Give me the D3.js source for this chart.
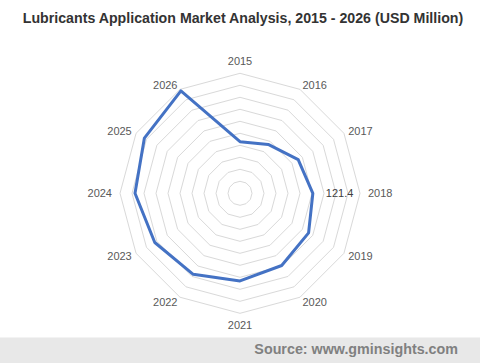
<!DOCTYPE html>
<html>
<head>
<meta charset="utf-8">
<script src="https://cdn.jsdelivr.net/npm/d3@7"></script>
<style>
    body { margin: 0; background: #fff; }
    text { font-family: "Liberation Sans", Arial, sans-serif; }
</style>
</head>
<body>
<div id="chart"></div>
<script>
// chart data
var years = ["2015", "2016", "2017", "2018", "2019", "2020", "2021", "2022", "2023", "2024", "2025", "2026"];
var values = [86, 94, 112, 121.4, 132, 139, 146, 156, 164, 175, 184, 197];
var ringTicks = [20, 40, 60, 80, 100, 120, 140, 160, 180, 200];
var labelledYear = "2018";

(function () {
    var width = 480, height = 363;
    var cx = 240, cy = 193.3, radius = 120;

    var svg = d3.select("#chart").append("svg")
        .attr("width", width)
        .attr("height", height);

    // title
    svg.append("text")
        .attr("x", 243)
        .attr("y", 18)
        .attr("dominant-baseline", "central")
        .attr("text-anchor", "middle")
        .attr("font-size", "14.2px")
        .attr("font-weight", "bold")
        .attr("fill", "#333333")
        .text("Lubricants Application Market Analysis, 2015 - 2026 (USD Million)");

    var angle = d3.scalePoint()
        .domain(years)
        .range([0, 2 * Math.PI * (years.length - 1) / years.length]);
    var r = d3.scaleLinear()
        .domain([0, d3.max(ringTicks)])
        .range([0, radius]);

    var g = svg.append("g")
        .attr("transform", "translate(" + cx + "," + cy + ")");

    function px(year, v) { return r(v) * Math.sin(angle(year)); }
    function py(year, v) { return -r(v) * Math.cos(angle(year)); }

    // polygon rings
    var ringLine = d3.lineRadial()
        .angle(function (d) { return angle(d.year); })
        .radius(function (d) { return r(d.v); })
        .curve(d3.curveLinearClosed);

    g.selectAll(".ring")
        .data(ringTicks)
        .enter().append("path")
        .attr("class", "ring")
        .attr("d", function (t) {
            return ringLine(years.map(function (y) { return {year: y, v: t}; }));
        })
        .attr("fill", "none")
        .attr("stroke", "#d9d9d9")
        .attr("stroke-width", 1);

    // series
    var series = years.map(function (y, i) { return {year: y, v: values[i]}; });
    g.append("path")
        .datum(series)
        .attr("d", ringLine)
        .attr("fill", "none")
        .attr("stroke", "#4472c4")
        .attr("stroke-width", 3)
        .attr("stroke-linejoin", "round");

    // data label
    var lab = series.filter(function (d) { return d.year === labelledYear; })[0];
    g.append("text")
        .attr("x", px(lab.year, lab.v) + 13)
        .attr("y", py(lab.year, lab.v))
        .attr("dominant-baseline", "central")
        .attr("font-size", "11px")
        .attr("fill", "#404040")
        .text(lab.v);

    // category labels
    g.selectAll(".cat")
        .data(years)
        .enter().append("text")
        .attr("class", "cat")
        .each(function (d) {
            var a = angle(d), s = Math.sin(a), c = Math.cos(a);
            var off = Math.abs(s) < 0.1 ? 12 : (Math.abs(c) < 0.1 ? 8 : 5);
            var x = (radius + off) * s, y = -(radius + off) * c;
            d3.select(this)
                .attr("x", x)
                .attr("y", y)
                .attr("text-anchor", Math.abs(s) < 0.1 ? "middle" : (s > 0 ? "start" : "end"));
        })
        .attr("dominant-baseline", "central")
        .attr("font-size", "11px")
        .attr("fill", "#595959")
        .text(function (d) { return d; });

    // source footer
    svg.append("rect")
        .attr("x", 0).attr("y", 337.5)
        .attr("width", width).attr("height", height - 337.5)
        .attr("fill", "#e8e8e8");
    svg.append("text")
        .attr("x", 458)
        .attr("y", 349)
        .attr("text-anchor", "end")
        .attr("dominant-baseline", "central")
        .attr("font-size", "14.3px")
        .attr("font-weight", "bold")
        .attr("fill", "#808080")
        .text("Source: www.gminsights.com");
})();
</script>
</body>
</html>
